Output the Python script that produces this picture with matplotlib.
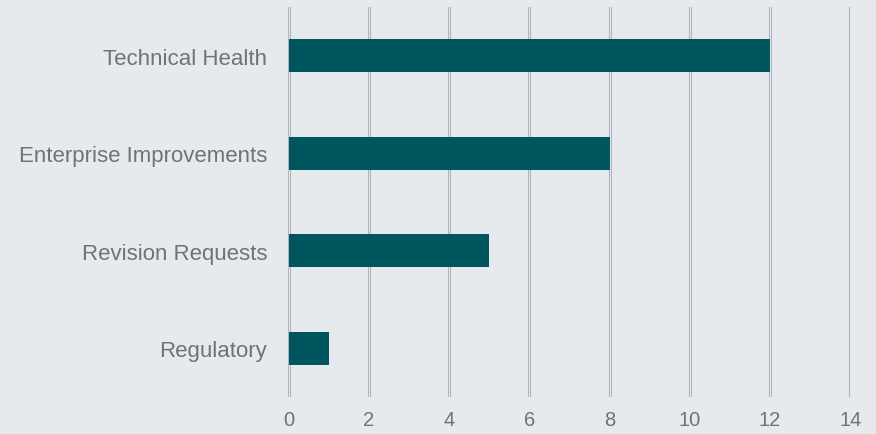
import matplotlib
matplotlib.use("Agg")
import matplotlib.pyplot as plt

categories = ["Technical Health", "Enterprise Improvements", "Revision Requests", "Regulatory"]
values = [12, 8, 5, 1]
xticks = [0, 2, 4, 6, 8, 10, 12, 14]

bg = "#e6eaee"
bar_color = "#00565f"
text_color = "#6d7378"

plt.rcParams["font.family"] = ["Liberation Sans", "DejaVu Sans"]

fig = plt.figure(figsize=(8.76, 4.35), dpi=100, facecolor=bg)
ax = fig.add_axes([0.3288, 0.085, 0.6427, 0.8965])
ax.set_facecolor(bg)

# gridlines drawn as a grey double line like the source
for x in xticks:
    ax.axvline(x, color="#afb3b7", lw=2.2, zorder=1)
    ax.axvline(x, color="#e2e5e8", lw=0.8, zorder=1)

ypos = list(range(len(categories)))
ax.barh(ypos, values, height=0.34, color=bar_color, zorder=3)

ax.set_xlim(-0.02, 14.02)
ax.set_ylim(len(categories) - 0.5, -0.5)
ax.set_yticks(ypos)
ax.set_yticklabels(categories, fontsize=16, color=text_color)
ax.set_xticks(xticks)
ax.set_xticklabels([str(x) for x in xticks], fontsize=14.5, color=text_color)
ax.tick_params(axis="both", length=0)
ax.tick_params(axis="y", pad=15)
ax.tick_params(axis="x", pad=9)
for s in ax.spines.values():
    s.set_visible(False)

fig.savefig("out.png", dpi=100, facecolor=bg)
